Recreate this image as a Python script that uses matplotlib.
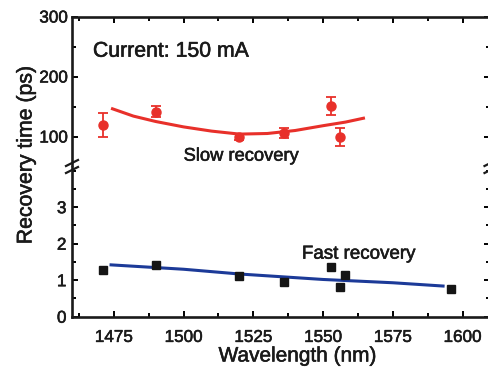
import matplotlib
matplotlib.use("Agg")
import matplotlib.pyplot as plt
import matplotlib.patheffects as pe
from matplotlib.ticker import MultipleLocator, FixedLocator
from matplotlib.lines import Line2D

plt.rcParams['font.family'] = ['Liberation Sans', 'DejaVu Sans']

# ---- data ----
slow_x = [1471, 1490, 1520, 1536, 1553, 1556]
slow_y = [120, 141.5, 100, 106, 151, 100]
slow_err = [20, 9, 5, 9, 15, 15]
slow_fit_x = [1474, 1482, 1490, 1500, 1510, 1520, 1530, 1540, 1550, 1558, 1565]
slow_fit_y = [147, 134, 125, 116, 109, 104, 105, 110, 118, 124, 131]

fast_x = [1471, 1490, 1520, 1536, 1553, 1556, 1558, 1596]
fast_y = [1.28, 1.42, 1.12, 0.96, 1.35, 0.82, 1.14, 0.76]
fast_fit_x = [1474, 1500, 1520, 1550, 1575, 1593]
fast_fit_y = [1.42, 1.30, 1.17, 1.02, 0.93, 0.84]

W, H = 489, 375
fig = plt.figure(figsize=(W / 100, H / 100), dpi=100)

def fx(px):
    return px / W

def fy(py):
    return 1 - py / H

left, right = 72, 490.5
top_y0, top_y1 = 16.5, 164.5     # top panel pixel extent
bot_y0, bot_y1 = 167.5, 316.7    # bottom panel pixel extent

ax_t = fig.add_axes([fx(left), fy(top_y1), fx(right) - fx(left), fy(top_y0) - fy(top_y1)])
ax_b = fig.add_axes([fx(left), fy(bot_y1), fx(right) - fx(left), fy(bot_y0) - fy(bot_y1)])

red = '#e8302a'
blue = '#1c3a98'
heavy = [pe.withStroke(linewidth=0.4, foreground='#1a1a1a')]

# top (slow)
ax_t.plot(slow_fit_x, slow_fit_y, color=red, lw=2.2, solid_capstyle='butt')
ax_t.errorbar(slow_x, slow_y, yerr=slow_err, fmt='o', color=red, ms=6.5,
              capsize=3.5, elinewidth=1.3, capthick=1.3)
ax_t.set_ylim(300 - (top_y1 - top_y0) / 0.6, 300)

# bottom (fast)
ax_b.plot(fast_fit_x, fast_fit_y, color=blue, lw=2.2)
ax_b.plot(fast_x, fast_y, 's', color='#151515', ms=6)
ax_b.set_ylim(0, (bot_y1 - bot_y0) / 36.5)

for ax in (ax_t, ax_b):
    ax.set_xlim(1460, 1610)
    ax.xaxis.set_major_locator(MultipleLocator(25))
    ax.xaxis.set_minor_locator(MultipleLocator(12.5))
    ax.tick_params(which='both', direction='in', top=True, right=True,
                   labelsize=12.3, width=1.4, labelcolor='#1a1a1a')
    ax.tick_params(which='major', length=4.5)
    ax.tick_params(which='minor', length=3)
    for s in ax.spines.values():
        s.set_linewidth(1.9)
        s.set_color('#1a1a1a')

ax_t.spines['bottom'].set_visible(False)
ax_b.spines['top'].set_visible(False)
ax_t.tick_params(which='both', bottom=False, labelbottom=False)
ax_b.tick_params(which='both', top=False)
ax_b.tick_params(axis='x', pad=9.5)
ax_t.tick_params(axis='y', pad=3)
ax_b.tick_params(axis='y', pad=4)

ax_t.yaxis.set_major_locator(FixedLocator([100, 200, 300]))
ax_t.yaxis.set_minor_locator(FixedLocator([150, 250]))
ax_b.yaxis.set_major_locator(FixedLocator([0, 1, 2, 3]))
ax_b.yaxis.set_minor_locator(FixedLocator([0.5, 1.5, 2.5, 3.5, 4.0]))

for ax in (ax_t, ax_b):
    for lbl in ax.get_xticklabels() + ax.get_yticklabels():
        lbl.set_path_effects(heavy)

# texts
kw = dict(color='#1a1a1a', path_effects=heavy)
ax_t.text(1467.5, 233, 'Current: 150 mA', fontsize=15.3, va='baseline', ha='left', **kw)
ax_t.text(1500, 59.7, 'Slow recovery', fontsize=13.2, va='baseline', ha='left', **kw)
ax_b.text(1542.4, 1.59, 'Fast recovery', fontsize=13.5, va='baseline', ha='left', **kw)

fig.text(fx(26), fy(155), 'Recovery time (ps)', rotation=90, fontsize=15.3,
         ha='center', va='center', **kw)
fig.text(fx(298), fy(356), 'Wavelength (nm)', fontsize=15,
         ha='center', va='center', **kw)

# break marks
for xc in (left, right):
    for yc in (top_y1 - 1.5, bot_y0 + 2.5):
        fig.add_artist(Line2D([fx(xc - 6), fx(xc + 6)], [fy(yc + 3), fy(yc - 3)],
                              color='#1a1a1a', lw=1.6, transform=fig.transFigure))

fig.savefig('out.png', dpi=100)
